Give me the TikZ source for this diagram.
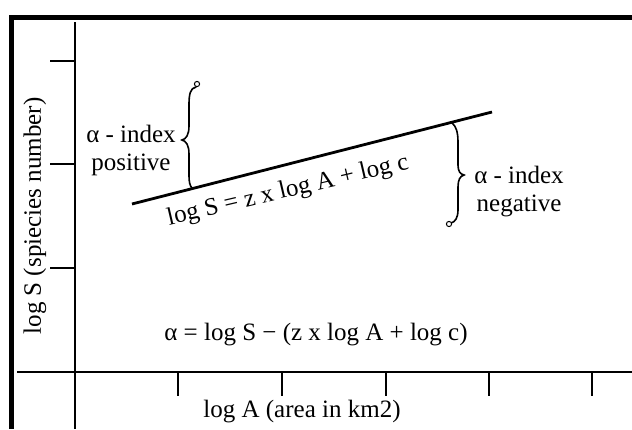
\documentclass[tikz,border=0pt]{standalone}
\usepackage{fontspec}
\setmainfont{Liberation Serif}
\begin{document}
\begin{tikzpicture}[x=1pt,y=-1pt,
  axis/.style={line width=1.4pt},
  tick/.style={line width=1.4pt},
  brace/.style={line width=1.6pt, line cap=round},
  endcirc/.style={line width=1pt, fill=white},
  lbl/.style={font=\fontsize{25}{27}\selectfont, inner sep=0pt},
]
\useasboundingbox (0,0) rectangle (632,429);
% frame
\fill (9,15) rectangle (632,20);
\fill (9,15) rectangle (14,429);
% axes
\draw[axis] (75,22) -- (75,429);
\draw[axis] (17,372) -- (632,372);
% y ticks
\foreach \y in {61,164,268} \draw[tick] (50,\y) -- (75,\y);
% x ticks
\foreach \x in {178,282,386,489,592} \draw[tick] (\x,372) -- (\x,396);
% regression line
\coordinate (l1) at (132,204);
\coordinate (l2) at (492,112);
\draw[line width=2.8pt] (l1) -- (l2);
% left brace (positive)
\draw[brace] (196,87) .. controls (190,88) and (189,95) .. (189,105) -- (189,126)
  .. controls (189,135) and (186,139) .. (182,140)
  .. controls (186,141) and (189,145) .. (189,154) -- (189,176)
  .. controls (189,182) and (190,186) .. (192,188);
\draw[endcirc] (197,84) circle (2.6);
% right brace (negative)
\draw[brace] (452,123) .. controls (456,126) and (458,132) .. (458,142) -- (458,165)
  .. controls (458,171) and (460,174) .. (464,175)
  .. controls (460,176) and (458,180) .. (458,187) -- (458,210)
  .. controls (458,218) and (455,222) .. (451,223);
\draw[endcirc] (449,224) circle (2.6);
% texts
\node[lbl, align=center] (pos) at (131,150) {α - index\\[1pt]positive};
\node[lbl, align=center] (neg) at (519,192) {α - index\\[1pt]negative};
\node[lbl, rotate=13.2] (eq) at (288,191) {log S = z x log A + log c};
\node[lbl] (alpha) at (316,335) {α = log S − (z x log A + log c)};
\node[lbl] (xl) at (302,412) {log A (area in km2)};
\node[lbl, rotate=90] (yl) at (35,216) {log S (spiecies number)};
\end{tikzpicture}
\end{document}
